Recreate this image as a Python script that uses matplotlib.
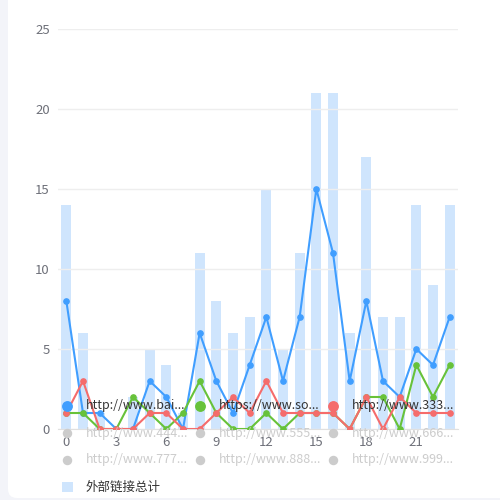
import matplotlib.pyplot as plt
import matplotlib.patches as patches

plt.rcParams['font.family'] = ['Noto Sans CJK SC', 'DejaVu Sans']

hours = list(range(24))
total = [14, 6, 1, 0, 2, 5, 4, 1, 11, 8, 6, 7, 15, 5, 11, 21, 21, 6, 17, 7, 7, 14, 9, 14]
baidu = [8, 1, 1, 0, 0, 3, 2, 0, 6, 3, 1, 4, 7, 3, 7, 15, 11, 3, 8, 3, 2, 5, 4, 7]
so = [1, 1, 0, 0, 2, 1, 0, 1, 3, 1, 0, 0, 1, 0, 1, 1, 1, 0, 2, 2, 0, 4, 2, 4]
site333 = [1, 3, 0, 0, 0, 1, 1, 0, 0, 1, 2, 1, 3, 1, 1, 1, 1, 0, 2, 0, 2, 1, 1, 1]

line_names = ["http://www.bai...", "https://www.so...", "http://www.333..."]
off_names = ["http://www.444...", "http://www.555...", "http://www.666...",
             "http://www.777...", "http://www.888...", "http://www.999..."]
bar_name = "外部链接总计"

colors = ["#409EFF", "#67C23A", "#F56C6C"]
bar_color = "#CFE5FD"
grid_color = "#EEEEEE"
label_color = "#6E7079"

fig = plt.figure(figsize=(5, 5), dpi=100, facecolor="#F3F4F9")

# white card
bg = fig.add_axes([0, 0, 1, 1], zorder=0)
bg.set_xlim(0, 500)
bg.set_ylim(500, 0)
bg.axis("off")
bg.add_patch(patches.FancyBboxPatch((8, -20), 520, 518, boxstyle="round,pad=0,rounding_size=9",
                                    facecolor="white", edgecolor="none"))

ax = fig.add_axes([58 / 500, 71 / 500, 400 / 500, 400 / 500], zorder=1)
ax.patch.set_alpha(0)
ax.bar(hours, total, width=0.6, color=bar_color, zorder=1)
for vals, c in zip([baidu, so, site333], colors):
    ax.plot(hours, vals, color=c, linewidth=1.5, marker="o", markersize=3.8, zorder=3)

ax.set_xlim(-0.5, 23.5)
ax.set_ylim(0, 25)
ax.set_yticks(range(0, 26, 5))
ax.set_xticks(range(0, 24, 3))
ax.grid(axis="y", color=grid_color, linewidth=1, zorder=0)
for s in ["top", "right", "left"]:
    ax.spines[s].set_visible(False)
ax.spines["bottom"].set_color("#E0E0E0")
ax.tick_params(axis="both", length=0, labelsize=9.5, labelcolor=label_color)
ax.tick_params(axis="y", pad=6)
ax.tick_params(axis="x", pad=5)

# legend overlay
lg = fig.add_axes([0, 0, 1, 1], zorder=5)
lg.set_xlim(0, 500)
lg.set_ylim(500, 0)
lg.axis("off")
col_x = [67, 200, 333]
for i, (name, c) in enumerate(zip(line_names, colors)):
    x = col_x[i]
    lg.plot(x, 406, "o", color=c, markersize=6.8)
    lg.text(x + 19, 406, name, color="#333333", fontsize=9, va="center", ha="left")
for j, name in enumerate(off_names):
    row, col = divmod(j, 3)
    y = 433 + row * 27
    x = col_x[col]
    lg.plot(x, y, "o", color="#CCCCCC", markersize=5.8)
    lg.text(x + 19, y, name, color="#CCCCCC", fontsize=9, va="center", ha="left")
lg.add_patch(patches.Rectangle((62, 482), 11, 10, facecolor=bar_color, edgecolor="none"))
lg.text(86, 487, bar_name, color="#333333", fontsize=9, va="center", ha="left")

fig.savefig("out.png", dpi=100, facecolor=fig.get_facecolor())
